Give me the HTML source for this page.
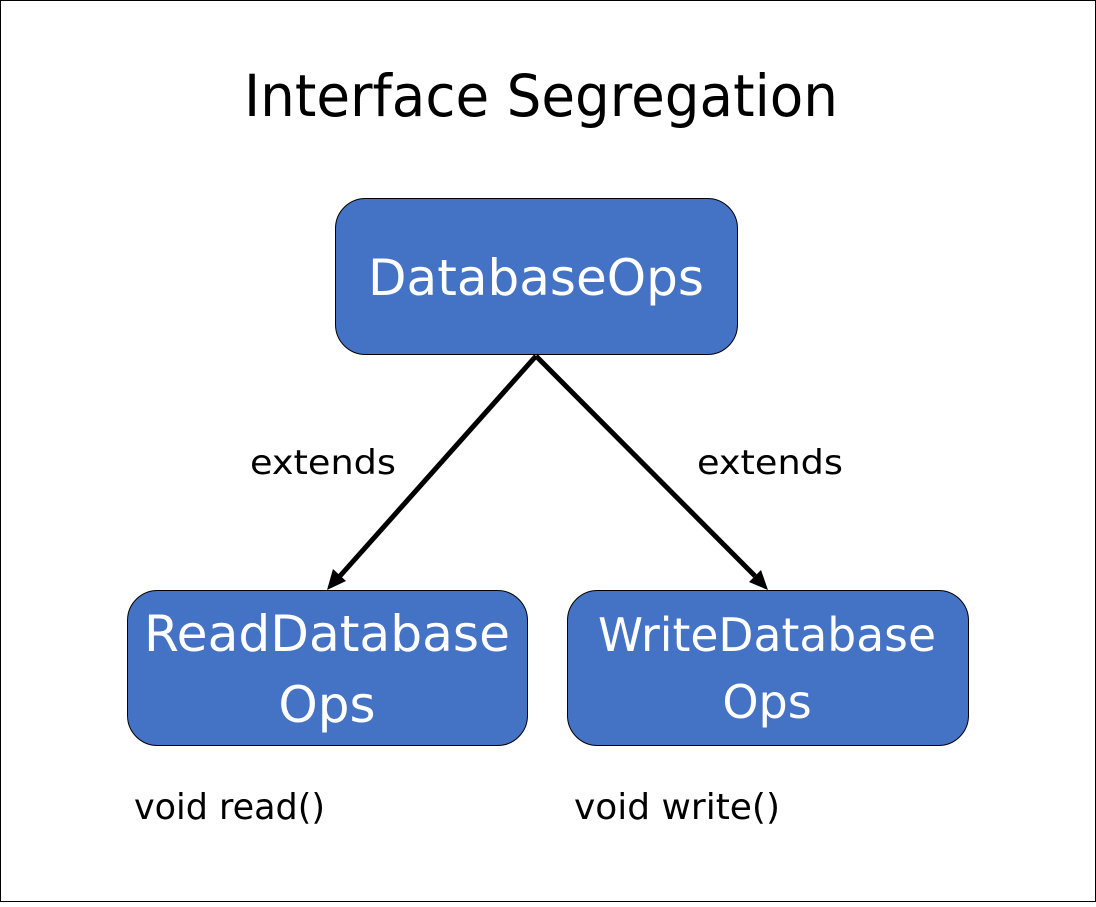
<!DOCTYPE html>
<html><head><style>html,body{margin:0;padding:0;background:#fff}</style></head>
<body>
<svg width="1096" height="902" viewBox="0 0 1096 902" xmlns="http://www.w3.org/2000/svg" font-family="'DejaVu Sans','Liberation Sans',sans-serif">
<rect x="0.5" y="0.5" width="1095" height="901" fill="#fff" stroke="#000"/>
<text x="541" y="116" font-size="58" text-anchor="middle" textLength="594" lengthAdjust="spacingAndGlyphs">Interface Segregation</text>
<rect x="335.5" y="198.5" width="402" height="156" rx="30" fill="#4472c4" stroke="#000"/>
<text x="536" y="295" font-size="50" fill="#fff" text-anchor="middle" textLength="336" lengthAdjust="spacingAndGlyphs">DatabaseOps</text>
<rect x="127.5" y="590.5" width="400" height="155" rx="30" fill="#4472c4" stroke="#000"/>
<text x="327" y="651" font-size="50" fill="#fff" text-anchor="middle" textLength="366" lengthAdjust="spacingAndGlyphs">ReadDatabase</text>
<text x="327" y="722" font-size="50" fill="#fff" text-anchor="middle">Ops</text>
<rect x="567.5" y="590.5" width="401" height="155" rx="30" fill="#4472c4" stroke="#000"/>
<text x="767" y="651" font-size="46" fill="#fff" text-anchor="middle" textLength="338" lengthAdjust="spacingAndGlyphs">WriteDatabase</text>
<text x="767" y="718" font-size="46" fill="#fff" text-anchor="middle">Ops</text>
<line x1="536" y1="356" x2="340" y2="576" stroke="#000" stroke-width="5"/>
<polygon points="327,590 333,569 346,581" fill="#000"/>
<line x1="536" y1="356" x2="755" y2="576" stroke="#000" stroke-width="5"/>
<polygon points="768,590 749,582 761,570" fill="#000"/>
<text x="323" y="474" font-size="34" text-anchor="middle" textLength="146" lengthAdjust="spacingAndGlyphs">extends</text>
<text x="770" y="474" font-size="34" text-anchor="middle" textLength="146" lengthAdjust="spacingAndGlyphs">extends</text>
<text x="134" y="819" font-size="36" textLength="191" lengthAdjust="spacingAndGlyphs">void read()</text>
<text x="574" y="819" font-size="36" textLength="206" lengthAdjust="spacingAndGlyphs">void write()</text>
</svg>
</body></html>
